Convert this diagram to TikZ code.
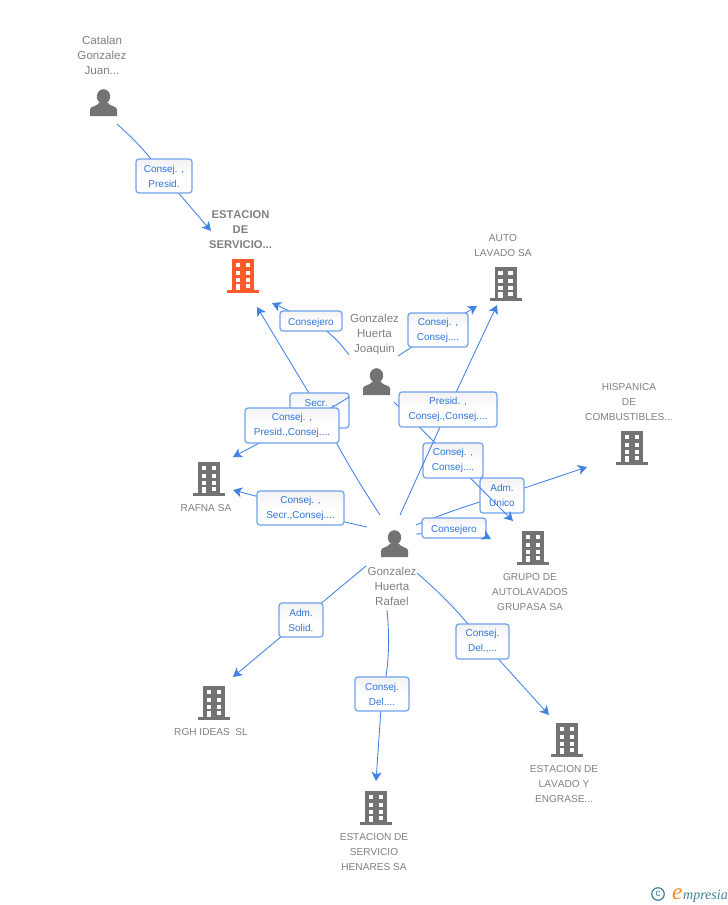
\documentclass[tikz,border=0pt]{standalone}
\usepackage{fontspec}
\setmainfont[Kerning=Off]{Liberation Sans}
\newfontfamily\logofont{Liberation Serif}
\usetikzlibrary{arrows.meta,positioning,shadings}
\definecolor{bluelink}{HTML}{3F82E4}
\definecolor{blueedge}{HTML}{6EA2EC}
\definecolor{bluetext}{HTML}{2F74DC}
\definecolor{greyicon}{HTML}{737373}
\definecolor{greytext}{HTML}{7F7F7F}
\definecolor{orangeicon}{HTML}{FF5A2B}
\definecolor{logoteal}{HTML}{3F7F97}
\definecolor{logoorange}{HTML}{F58A1F}
\tikzset{%
	link/.style     = {bluelink, line width=0.85pt},
	arrow/.style    = {link, -{Stealth[length=9pt,width=10pt,inset=2.5pt]}},
	rolebox/.style  = {draw=blueedge, line width=1.2pt, rounded corners=3pt, top color=black!5, bottom color=white, middle color=white, text=bluetext, align=center, inner sep=0pt, font=\fontsize{10}{15}\selectfont, execute at begin node={\rule{0pt}{10.5pt}}},
	company/.style  = {text=greytext, align=center, inner sep=0pt, font=\fontsize{10.1}{15}\selectfont},
	mainco/.style   = {company, font=\bfseries\fontsize{11.2}{15}\selectfont},
	personname/.style = {company, font=\fontsize{11.6}{15}\selectfont},
	building/.pic   = {
		\fill[pic actions] (-11,-17) rectangle (11,14);
		\fill[pic actions] (-16,14) rectangle (16,17);
		\foreach \wy in {-13,-5.5,2} {
			\fill[white] (-7.3,\wy) rectangle (-2.7,\wy+4.4);
			\fill[white] (2.7,\wy) rectangle (7.3,\wy+4.4);
		}
		\fill[white] (2.7,7.5) rectangle (7.3,11.9);
		\fill[white] (-7.3,7.5) rectangle (-2.7,14);
	},
	person/.pic     = {
		\fill[greyicon] (0,-6) ellipse (6.7 and 7.3);
		\fill[greyicon] (-13.5,13.5) -- (-13.5,7) .. controls (-13.5,3.5) and (-6,4) .. (-4,0) -- (4,0) .. controls (6,4) and (13.5,3.5) .. (13.5,7) -- (13.5,13.5) -- cycle;
	},
}
\begin{document}
\begin{tikzpicture}[x=1pt,y=-1pt]
	\useasboundingbox (0,0) rectangle (728,905);

	\pic at (103.5,102.5) {person};
	\pic at (376.5,381.5) {person};
	\pic at (394.5,543.5) {person};
	\pic[fill=orangeicon] at (243,276) {building};
	\foreach \cx/\cy in {505.5/284,632/448,209/479,533/548,214/703,376/808,567/740} \pic[fill=greyicon] at (\cx,\cy) {building};

	\node[personname] (catalan) at (102,55) {Catalan\\Gonzalez\\Juan...};
	\node[personname] (joaquin) at (374.5,334) {Gonzalez\\Huerta\\Joaquin};
	\node[personname] (rafael) at (392,586) {Gonzalez\\Huerta\\Rafael};
	\node[mainco] (estacion) at (240.5,230) {ESTACION\\DE\\SERVICIO...};
	\node[company] (autolavado) at (503,245.5) {AUTO\\LAVADO SA};
	\node[company] (hispanica) at (629,402) {HISPANICA\\DE\\COMBUSTIBLES...};
	\node[company] (rafna) at (206,508) {RAFNA SA};
	\node[company] (grupo) at (530,592) {GRUPO DE\\AUTOLAVADOS\\GRUPASA SA};
	\node[company] (rgh) at (211,732) {RGH IDEAS\ \ SL};
	\node[company] (lavado) at (564,784) {ESTACION DE\\LAVADO Y\\ENGRASE...};
	\node[company] (henares) at (374,852) {ESTACION DE\\SERVICIO\\HENARES SA};

	% free ends of the connectors
	\coordinate (catalan-o) at (117,124);
	\coordinate (estacion-a) at (211,231);
	\coordinate (estacion-b) at (272,303);
	\coordinate (estacion-c) at (257,307);
	\coordinate (auto-a) at (477,306);
	\coordinate (auto-b) at (497,305);
	\coordinate (hisp-a) at (587,467);
	\coordinate (rafna-a) at (233,457);
	\coordinate (rafna-b) at (233,490);
	\coordinate (grupo-a) at (513,521);
	\coordinate (grupo-b) at (491,539);
	\coordinate (rgh-a) at (233,677);
	\coordinate (henares-a) at (376,781);
	\coordinate (lavado-a) at (549,715);
	\coordinate (joaquin-a) at (349,355);
	\coordinate (joaquin-b) at (398,356);
	\coordinate (joaquin-c) at (349,397);
	\coordinate (joaquin-d) at (394,402);
	\coordinate (rafael-a) at (380,515);
	\coordinate (rafael-b) at (400,515);
	\coordinate (rafael-c) at (416,525);
	\coordinate (rafael-d) at (416,534);
	\coordinate (rafael-e) at (367,527);
	\coordinate (rafael-f) at (366,566);
	\coordinate (rafael-g) at (387,610);
	\coordinate (rafael-h) at (417,573);

	\draw[link] (catalan-o) to[bend left=6] (164,176) coordinate (cp);
	\draw[arrow] (cp) -- (estacion-a);
	\node[rolebox, minimum width=56pt, minimum height=34pt] (catpres) at (cp) {Consej. ,\\Presid.};

	\draw[link] (joaquin-a) to[bend right=12] (311,321) coordinate (jc);
	\draw[arrow] (jc) -- (estacion-b);
	\node[rolebox, minimum width=62pt, minimum height=20pt] (jconsejero) at (jc) {Consejero};

	\draw[link] (joaquin-b) -- (438,330) coordinate (ja);
	\draw[arrow] (ja) -- (auto-a);
	\node[rolebox, minimum width=60pt, minimum height=34pt] (jauto) at (ja) {Consej. ,\\Consej....};

	\draw[link] (rafael-a) to[bend left=3] (319.5,410.5) coordinate (rs);
	\draw[arrow] (rs) -- (estacion-c);
	\node[rolebox, minimum width=59pt, minimum height=35pt] (rsecr) at (rs) {Secr. ,\\\mbox{}};

	\draw[link] (joaquin-c) to[bend left=6] (292,425.5) coordinate (jr);
	\draw[arrow] (jr) -- (rafna-a);
	\node[rolebox, minimum width=94pt, minimum height=35pt] (jrafna) at (jr) {Consej. ,\\Presid.,Consej....};

	\draw[link] (rafael-c) to[bend left=3] (502,495.5) coordinate (rh);
	\draw[arrow] (rh) -- (hisp-a);
	\node[rolebox, minimum width=44pt, minimum height=35pt] (rhisp) at (rh) {Adm.\\Unico};

	\draw[link] (joaquin-d) -- (453,460.5) coordinate (jg);
	\draw[arrow] (jg) -- (grupo-a);
	\node[rolebox, minimum width=60pt, minimum height=35pt] (jgrupo) at (jg) {Consej. ,\\Consej....};

	\draw[link] (rafael-b) -- (448,409.5) coordinate (ra);
	\draw[arrow] (ra) -- (auto-b);
	\node[rolebox, minimum width=98pt, minimum height=35pt] (rauto) at (ra) {Presid. ,\\Consej.,Consej....};

	\node[rolebox, minimum width=64pt, minimum height=20pt] (rgrupo) at (454,528) {Consejero};
	\draw[link] (rafael-d) -- (rgrupo.190);
	\draw[arrow] (rgrupo.-15) -- (grupo-b);

	\draw[link] (rafael-e) to[bend left=4] (300.5,508) coordinate (rr);
	\draw[arrow] (rr) -- (rafna-b);
	\node[rolebox, minimum width=87pt, minimum height=34pt] (rrafna) at (rr) {Consej. ,\\Secr.,Consej....};

	\draw[link] (rafael-f) -- (301,620) coordinate (rg);
	\draw[arrow] (rg) -- (rgh-a);
	\node[rolebox, minimum width=44pt, minimum height=34pt] (rrgh) at (rg) {Adm.\\Solid.};

	\draw[link] (rafael-g) .. controls (390,640) and (389,670) .. (382,694) coordinate (rn);
	\draw[arrow] (rn) -- (henares-a);
	\node[rolebox, minimum width=54pt, minimum height=34pt] (rhenares) at (rn) {Consej.\\Del....};

	\draw[link] (rafael-h) to[bend left=5] (482.5,641.5) coordinate (rl);
	\draw[arrow] (rl) -- (lavado-a);
	\node[rolebox, minimum width=53pt, minimum height=35pt] (rlavado) at (rl) {Consej.\\Del.,...};

	\node[draw=logoteal, line width=1.2pt, circle, text=logoteal, minimum size=12.5pt, inner sep=0pt, font=\fontsize{10}{10}\selectfont] (logoc) at (658,894) {c};
	\node[anchor=base west, inner sep=0pt, text=logoorange, font=\logofont\itshape\fontsize{23}{23}\selectfont] (logoe) at (672,899) {e};
	\node[anchor=base west, inner sep=0pt, text=logoteal, font=\logofont\itshape\fontsize{14}{14}\selectfont] (logot) at (683,899) {mpresia};
\end{tikzpicture}
\end{document}
